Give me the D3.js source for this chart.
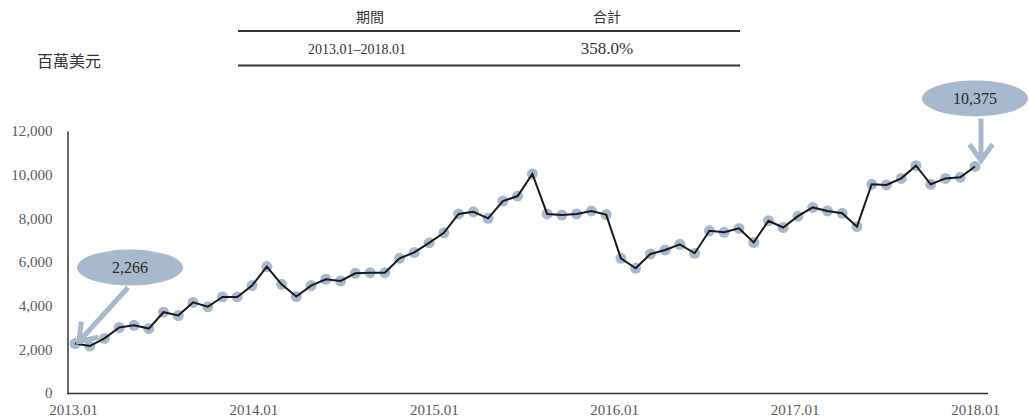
<!DOCTYPE html>
<html><head><meta charset="utf-8">
<script src="https://cdn.jsdelivr.net/npm/d3@7/dist/d3.min.js"></script>
<style>
body{margin:0;background:#fff;}
svg{display:block;font-family:"Liberation Serif","Noto Sans CJK TC",serif;}
</style></head>
<body><svg id="c" width="1029" height="420"></svg>
<script>
const values = [2266,2150,2500,3000,3100,2950,3700,3550,4150,3950,
  4400,4400,4920,5790,4980,4420,4920,5210,5130,5480,
  5510,5510,6170,6440,6880,7340,8200,8300,8000,8790,
  9020,10030,8200,8150,8200,8340,8170,6170,5710,6370,
  6550,6810,6400,7430,7360,7540,6890,7890,7580,8100,
  8500,8340,8230,7620,9560,9530,9830,10410,9560,9830,
  9880,10375];
const tickLabels = ["2013.01","2014.01","2015.01","2016.01","2017.01","2018.01"];
const yTicks = [0,2000,4000,6000,8000,10000,12000];
const tableHeader = ["期間","合計"];
const tableRow = ["2013.01–2018.01","358.0%"];
const unitLabel = "百萬美元";
const startLabel = "2,266", endLabel = "10,375";

const svg = d3.select("#c");
const x = d3.scaleLinear().domain([0, values.length-1]).range([75, 975]);
const xl = d3.scalePoint().domain(tickLabels).range([73, 975]);
const y = d3.scaleLinear().domain([0, 12000]).range([393, 131]);
const dark = "#333", grey = "#595959", blue = "#a9b9cd";

// Table header
const tcx = d3.scalePoint().domain([0,1]).range([357, 607]);
svg.append("line").attr("x1",238).attr("x2",740).attr("y1",31).attr("y2",31).attr("stroke",dark).attr("stroke-width",1.8);
svg.append("line").attr("x1",238).attr("x2",740).attr("y1",65.5).attr("y2",65.5).attr("stroke",dark).attr("stroke-width",1.8);
tableHeader.forEach((t,i)=>svg.append("text").attr("x",tcx(i)+(i==0?13:0)).attr("y",22).attr("text-anchor","middle")
  .attr("font-size",14).attr("fill",dark).attr("font-family","Noto Sans CJK TC").text(t));
tableRow.forEach((t,i)=>svg.append("text").attr("x",tcx(i)).attr("y",54).attr("text-anchor","middle")
  .attr("font-size",i==0?14:17).attr("fill",dark).text(t));
svg.append("text").attr("x",37).attr("y",67).attr("font-size",16).attr("fill",dark)
  .attr("font-family","Noto Sans CJK TC").text(unitLabel);

// Axes
const ya = svg.append("g").attr("transform","translate(67.5,0)")
  .call(d3.axisLeft(y).tickValues(yTicks).tickFormat(d3.format(",")).tickSize(0).tickSizeOuter(0).tickPadding(15));
ya.select(".domain").attr("stroke",dark).attr("stroke-width",1.5);
ya.selectAll("text").attr("font-size",15).attr("fill",grey).attr("font-family","Liberation Serif");

svg.append("line").attr("x1",67).attr("x2",x(values.length-1)+13).attr("y1",y(0)+0.5).attr("y2",y(0)+0.5)
  .attr("stroke",dark).attr("stroke-width",1.5);
const xa = svg.append("g").attr("transform",`translate(0,${y(0)})`)
  .call(d3.axisBottom(xl).tickSize(0).tickPadding(11));
xa.select(".domain").remove();
xa.selectAll("text").attr("font-size",15).attr("fill",grey).attr("font-family","Liberation Serif");

// Markers and line
svg.append("g").selectAll("circle").data(values).join("circle")
  .attr("cx",(d,i)=>x(i)).attr("cy",d=>y(d)).attr("r",5.5).attr("fill",blue);
svg.append("path").datum(values).attr("fill","none").attr("stroke","#1a1a1a").attr("stroke-width",2)
  .attr("d", d3.line().x((d,i)=>x(i)).y(d=>y(d)));

// Annotations
function arrow(x1,y1,x2,y2){
  const a = Math.atan2(y2-y1,x2-x1), L = 20, sp = 0.62;
  const p1=[x2-L*Math.cos(a-sp), y2-L*Math.sin(a-sp)], p2=[x2-L*Math.cos(a+sp), y2-L*Math.sin(a+sp)];
  svg.append("path").attr("d",`M${x1},${y1}L${x2},${y2}M${p1}L${x2},${y2}L${p2}`)
    .attr("fill","none").attr("stroke",blue).attr("stroke-width",5).attr("stroke-linejoin","miter");
}
const sx = x(0), sy = y(values[0]);
svg.append("ellipse").attr("cx",sx+55).attr("cy",sy-76).attr("rx",53).attr("ry",18).attr("fill",blue);
svg.append("text").attr("x",sx+55).attr("y",sy-76).attr("dy","0.35em").attr("text-anchor","middle")
  .attr("font-size",16).attr("fill","#2a2a2a").text(startLabel);
arrow(sx+53, sy-56, sx+4, sy-2);

const ex = x(values.length-1), ey = y(values[values.length-1]);
svg.append("ellipse").attr("cx",ex).attr("cy",ey-68).attr("rx",53).attr("ry",18).attr("fill",blue);
svg.append("text").attr("x",ex).attr("y",ey-68).attr("dy","0.35em").attr("text-anchor","middle")
  .attr("font-size",16).attr("fill","#2a2a2a").text(endLabel);
arrow(ex+6, ey-48, ex+6, ey-6);
</script></body></html>
